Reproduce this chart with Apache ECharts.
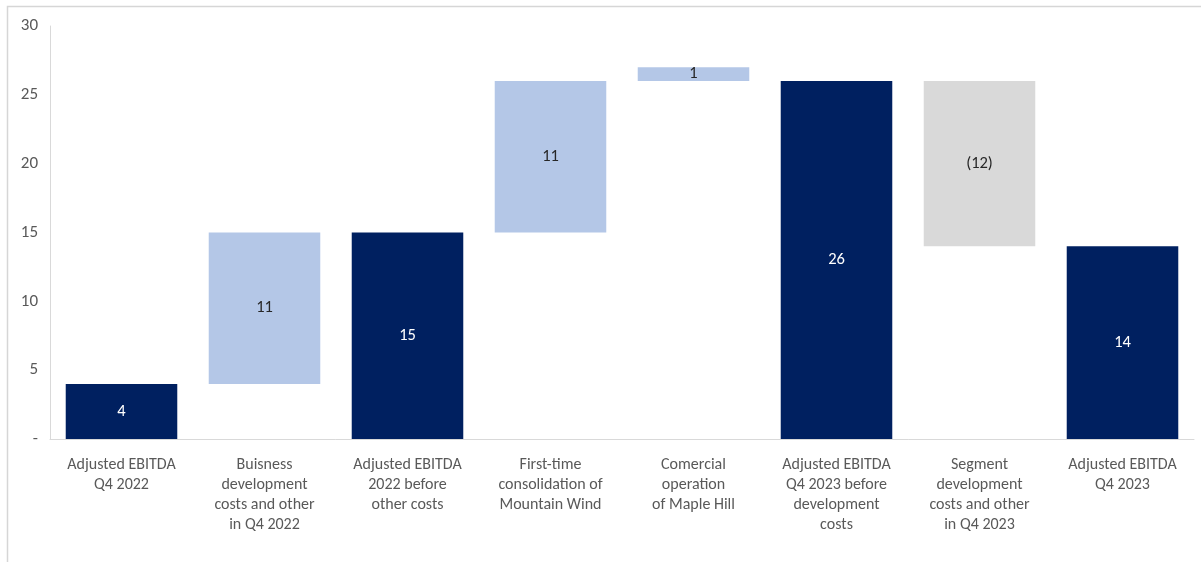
<!DOCTYPE html>
<html>
<head>
<meta charset="utf-8">
<script src="https://cdn.jsdelivr.net/npm/echarts@6/dist/echarts.min.js"></script>
<style>
  html, body { margin: 0; padding: 0; background: #fff; }
  #chart { width: 1201px; height: 562px; }
</style>
</head>
<body>
<div id="chart"></div>
<script>
// Bridge from Q4 2022 to Q4 2023 adjusted EBITDA
const categories = [
  'Adjusted EBITDA\nQ4 2022',
  'Buisness\ndevelopment\ncosts and other\nin Q4 2022',
  'Adjusted EBITDA\n2022 before\nother costs',
  'First-time\nconsolidation of\nMountain Wind',
  'Comercial\noperation\nof Maple Hill',
  'Adjusted EBITDA\nQ4 2023 before\ndevelopment\ncosts',
  'Segment\ndevelopment\ncosts and other\nin Q4 2023',
  'Adjusted EBITDA\nQ4 2023'
];
// change per step; totals restate the running level
const values = [4, 11, 15, 11, 1, 26, -12, 14];
const kinds  = ['total', 'up', 'total', 'up', 'up', 'total', 'down', 'total'];
const yTicks = [0, 5, 10, 15, 20, 25, 30];

const colors = { total: '#002060', up: '#b4c7e7', down: '#d9d9d9' };

// running level -> invisible base + visible segment
let level = 0;
const base = [], seg = [];
values.forEach((v, i) => {
  if (kinds[i] === 'total') {
    base.push(0); seg.push(v); level = v;
  } else if (v >= 0) {
    base.push(level); seg.push(v); level += v;
  } else {
    base.push(level + v); seg.push(-v); level += v;
  }
});

const font = 'Carlito, Lato, "Open Sans", sans-serif';
const chart = echarts.init(document.getElementById('chart'), null, { renderer: 'canvas' });
chart.setOption({
  animation: false,
  backgroundColor: '#fff',
  graphic: [{
    type: 'rect', left: 5, top: 4, silent: true,
    shape: { width: 1210, height: 580 },
    style: { fill: 'none', stroke: '#d6d6d6', lineWidth: 1.5 }
  }],
  grid: { left: 50, right: 7, top: 26, bottom: 123 },
  xAxis: {
    type: 'category',
    data: categories,
    axisLine: { show: true, lineStyle: { color: '#d9d9d9', width: 1 } },
    axisTick: { show: false },
    axisLabel: {
      interval: 0, color: '#595959', fontFamily: font, fontSize: 16,
      lineHeight: 20, margin: 16
    }
  },
  yAxis: {
    type: 'value', min: 0, max: 30, interval: 5,
    axisLine: { show: true, lineStyle: { color: '#d9d9d9', width: 1 } },
    axisTick: { show: false },
    splitLine: { show: false },
    axisLabel: {
      color: '#595959', fontFamily: font, fontSize: 17, margin: 12,
      formatter: v => (yTicks.includes(v) ? (v === 0 ? '-' : String(v)) : '')
    }
  },
  series: [
    {
      type: 'bar', stack: 'w', data: base, barCategoryGap: '22%',
      itemStyle: { color: 'transparent' }, silent: true
    },
    {
      type: 'bar', stack: 'w', barCategoryGap: '22%',
      data: seg.map((s, i) => ({
        value: s,
        itemStyle: { color: colors[kinds[i]] },
        label: {
          color: kinds[i] === 'total' ? '#ffffff' : '#262626'
        }
      })),
      label: {
        show: true, position: 'inside', fontFamily: font, fontSize: 16.5,
        formatter: p => {
          const v = values[p.dataIndex];
          return v < 0 ? '(' + (-v) + ')' : String(v);
        }
      }
    }
  ]
});
</script>
</body>
</html>
